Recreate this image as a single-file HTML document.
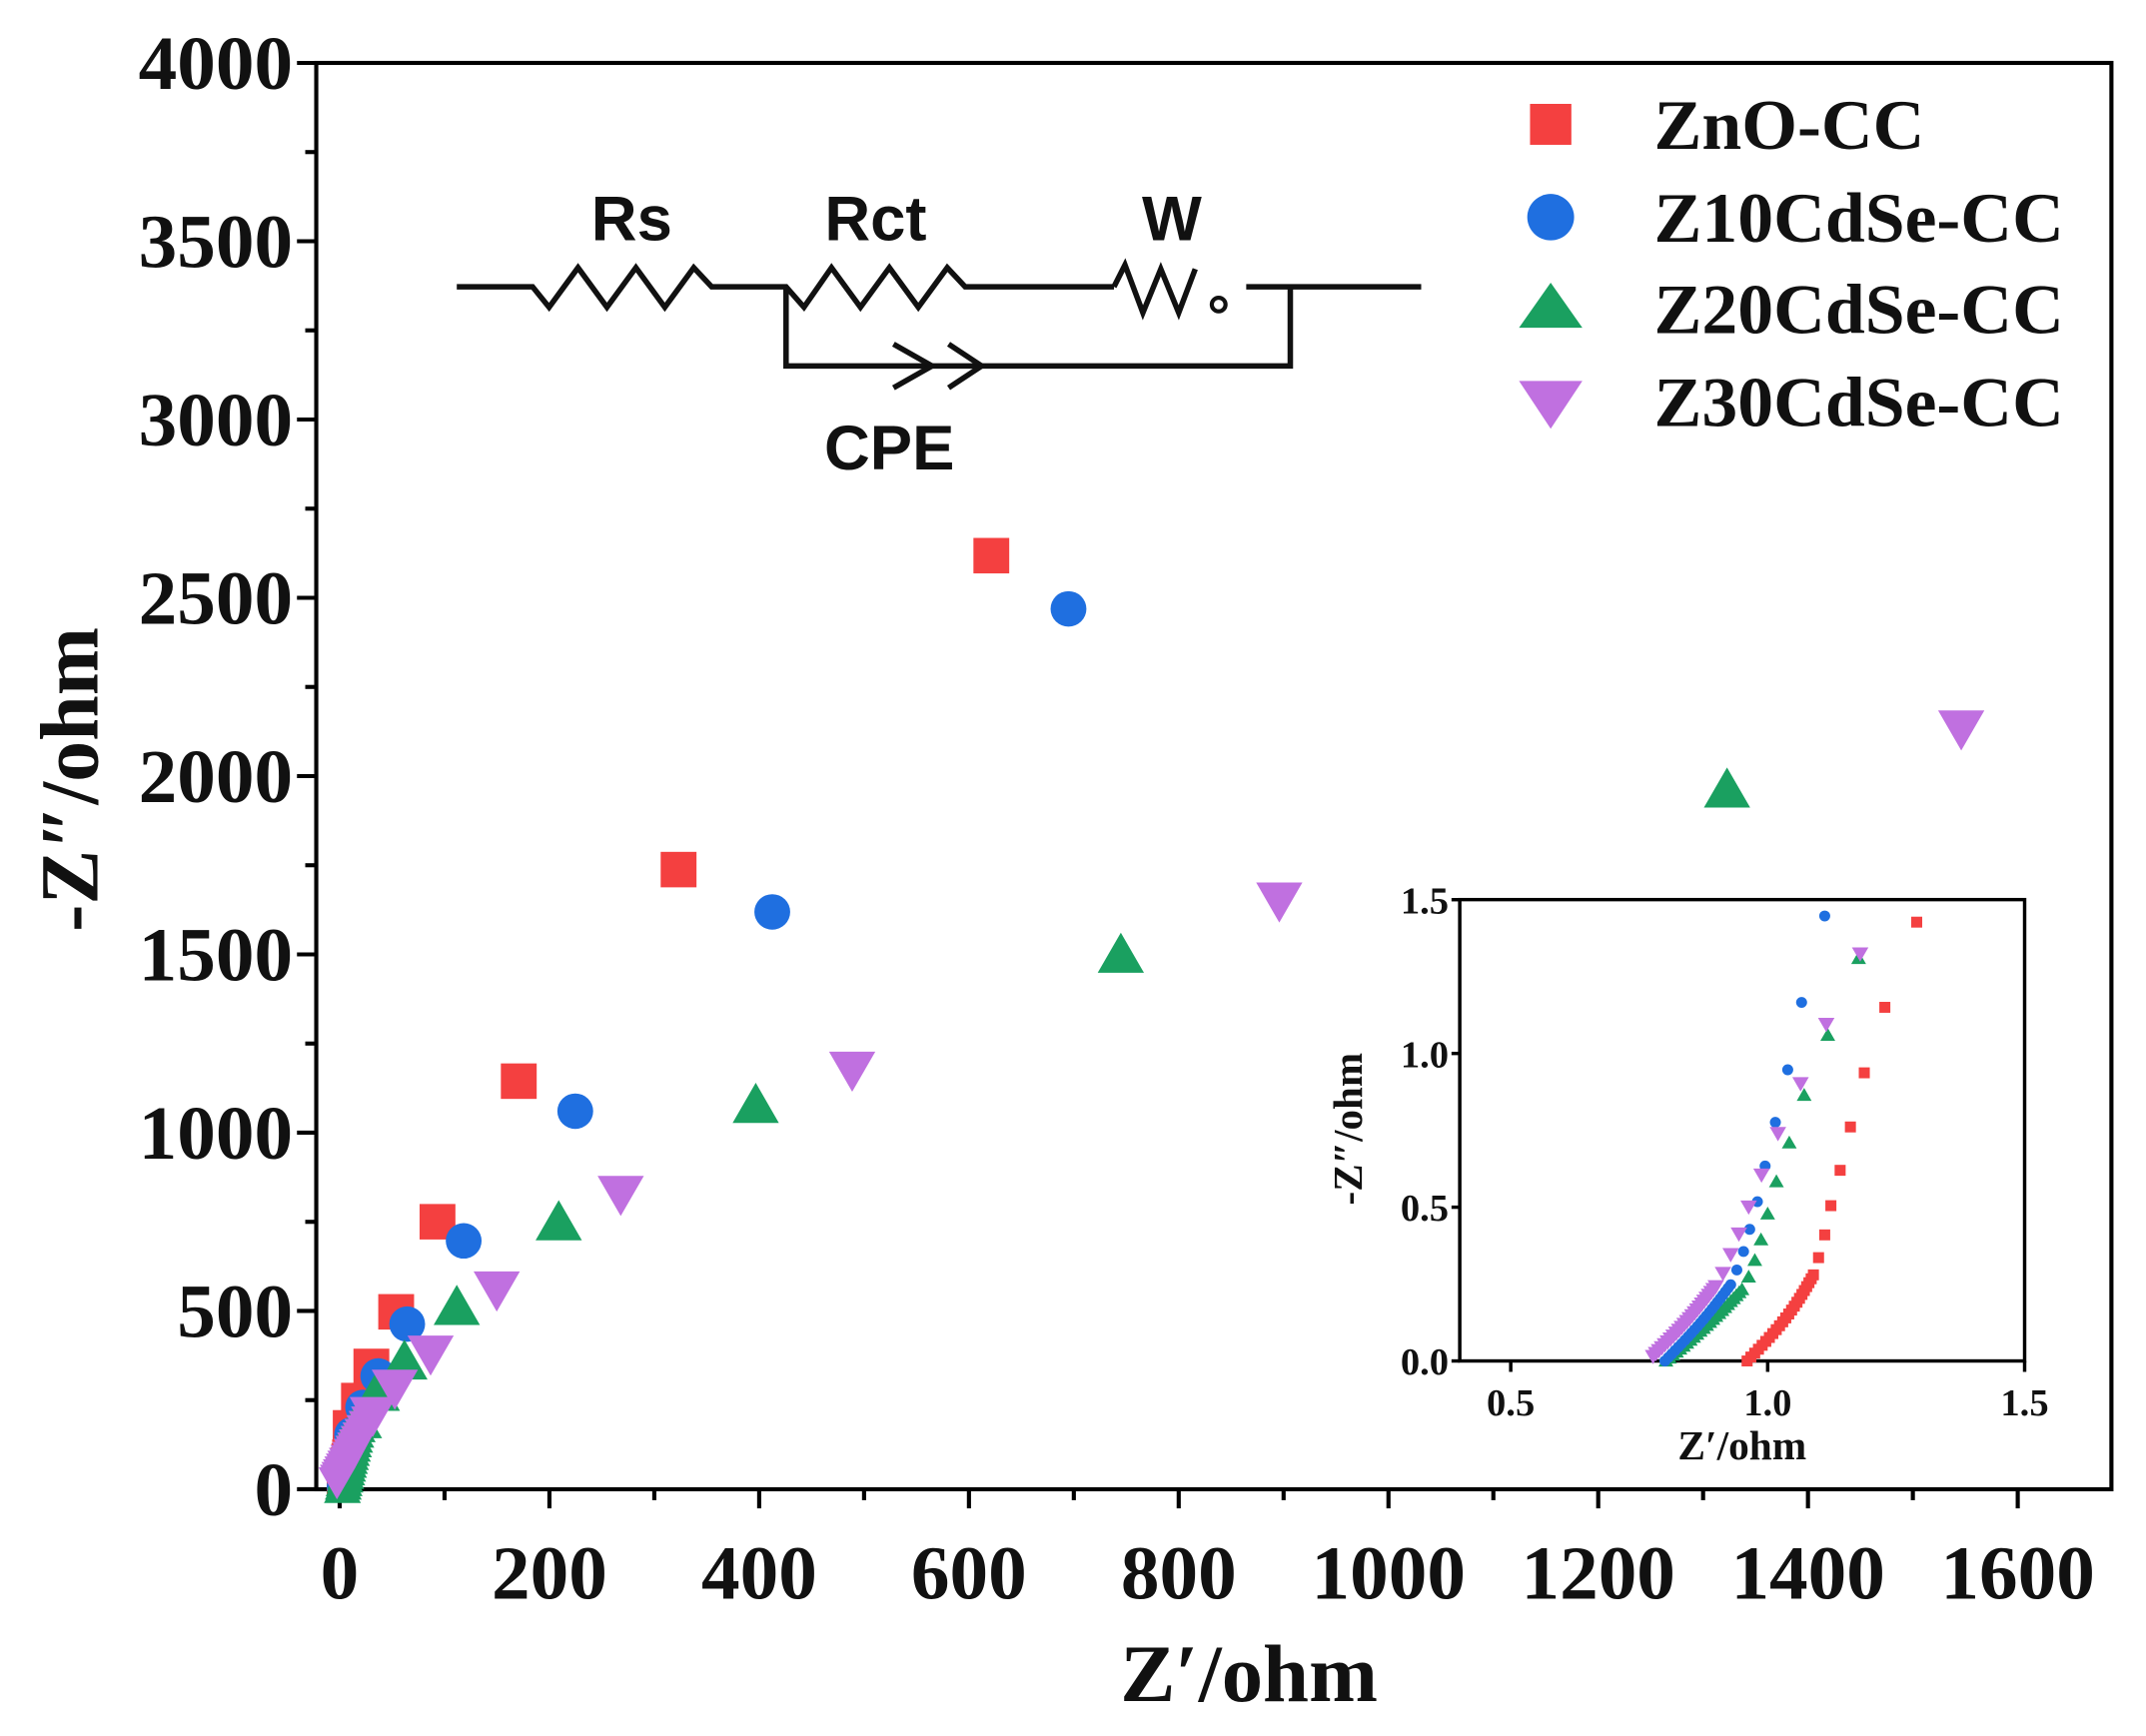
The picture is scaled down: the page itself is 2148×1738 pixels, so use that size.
<!DOCTYPE html>
<html><head><meta charset="utf-8"><style>
html,body{margin:0;padding:0;background:#fff;}
svg{display:block;}
</style></head><body>
<svg id="s" xmlns="http://www.w3.org/2000/svg" width="2148" height="1738" viewBox="0 0 2148 1738">
<rect width="2148" height="1738" fill="#fff"/>
<g id="g" transform="matrix(1.379 0 0 1.3665 -2 1.5)">
<rect x="231" y="45" width="1303" height="1045" fill="none" stroke="#000" stroke-width="3"/>
<g id="ticks" stroke="#000" stroke-width="3"></g>
<g id="labels" font-family="Liberation Serif, serif" font-weight="bold" font-size="56" fill="#111"></g>
<text x="908" y="1245" text-anchor="middle" font-family="Liberation Serif, serif" font-weight="bold" font-size="60" fill="#111">Z′/ohm</text>
<text transform="translate(72,570) rotate(-90)" text-anchor="middle" font-family="Liberation Serif, serif" font-weight="bold" font-size="60" fill="#111">-Z″/ohm</text>
<g fill="none" stroke="#111" stroke-width="4" stroke-linejoin="miter">
<polyline points="333,209 388,209 400,224 421,195 442,224 463,195 484,224 505,195 518,209 572,209 585,224 605,195 626,224 647,195 668,224 689,195 702,209 723,209 810,209"/>
<polyline points="810,209 818,193 831,228 844,196 857,228 869,196"/>
<circle cx="886" cy="222" r="5" stroke-width="3"/>
<polyline points="906,209 1033,209"/>
<polyline points="572,209 572,267 938,267 938,209"/>
<polyline points="650,251 678,267 650,283"/>
<polyline points="690,251 714,267 690,283"/>
</g>
<g font-family="Liberation Sans, sans-serif" font-weight="bold" font-size="46" fill="#111" text-anchor="middle">
<text x="460" y="175">Rs</text>
<text x="637" y="175">Rct</text>
<text x="852" y="175">W</text>
<text x="647" y="343">CPE</text>
</g>
<g font-family="Liberation Serif, serif" font-weight="bold" font-size="52" fill="#111">
<rect x="1112" y="75" width="30" height="30" fill="#f44040"/>
<text x="1202" y="108">ZnO-CC</text>
<circle cx="1127" cy="158" r="17" fill="#1f6fe0"/>
<text x="1202" y="176">Z10CdSe-CC</text>
<polygon points="1127,206 1150,239 1104,239" fill="#1aa060"/>
<text x="1202" y="243">Z20CdSe-CC</text>
<polygon points="1104,278 1150,278 1127,313" fill="#c070e0"/>
<text x="1202" y="311">Z30CdSe-CC</text>
</g>
<g id="data"></g>
<rect x="1061" y="658" width="410" height="338" fill="#fff" stroke="#000" stroke-width="2.5"/>
<g id="idata"></g>
<g id="iticks" stroke="#000" stroke-width="2.5"></g>
<g id="ilabels" font-family="Liberation Serif, serif" font-weight="bold" font-size="28" fill="#111"></g>
<text x="1266" y="1068" text-anchor="middle" font-family="Liberation Serif, serif" font-weight="bold" font-size="30" fill="#111">Z′/ohm</text>
<text transform="translate(990,826) rotate(-90)" text-anchor="middle" font-family="Liberation Serif, serif" font-weight="bold" font-size="30" fill="#111">-Z″/ohm</text>
</g>
</svg>
<script>
var NS="http://www.w3.org/2000/svg";
function el(p,t,a,txt){var e=document.createElementNS(NS,t);for(var k in a)e.setAttribute(k,a[k]);if(txt!=null)e.textContent=txt;document.getElementById(p).appendChild(e);return e;}
function X(v){return 248+v*0.76125;}
function Y(v){return 1090-v*0.26125;}
for(var v=0;v<=1600;v+=100){var x=X(v);el("ticks","line",{x1:x,y1:1090,x2:x,y2:v%200==0?1104:1098});
 if(v%200==0)el("labels","text",{x:x,y:1170,"text-anchor":"middle"},String(v));}
for(var v=0;v<=4000;v+=250){var y=Y(v);el("ticks","line",{x1:231,y1:y,x2:v%500==0?217:223,y2:y});
 if(v%500==0)el("labels","text",{x:214,y:y+19,"text-anchor":"end"},String(v));}
var C={r:"#f44040",b:"#1f6fe0",g:"#1aa060",p:"#c070e0"};
function mark(p,type,x,y,s){
 if(type=="r")el(p,"rect",{x:x-s/2,y:y-s/2,width:s,height:s,fill:C.r});
 else if(type=="b")el(p,"circle",{cx:x,cy:y,r:s/2,fill:C.b});
 else if(type=="g")el(p,"polygon",{points:(x)+","+(y-s*0.6)+" "+(x+s*0.6)+","+(y+s*0.45)+" "+(x-s*0.6)+","+(y+s*0.45),fill:C.g});
 else el(p,"polygon",{points:(x-s*0.6)+","+(y-s*0.45)+" "+(x+s*0.6)+","+(y-s*0.45)+" "+x+","+(y+s*0.6),fill:C.p});}
function series(p,type,pts,end,n,s){
 for(var i=0;i<pts.length;i++)mark(p,type,pts[i][0],pts[i][1],s);
 var a=pts[pts.length-1];
 for(var k=1;k<=n;k++){var t=k/n;var tt=Math.pow(t,0.8);mark(p,type,a[0]+(end[0]-a[0])*tt,a[1]+(end[1]-a[1])*tt,s*0.8);}}
series("data","r",[[721,406],[494,636],[378,791],[319,894],[289,960],[271,1000],[262,1025],[256,1045]],[249,1088],14,26);
series("data","b",[[777,445],[562,667],[419,813],[338,908],[297,969],[276,1007],[265,1030],[257,1050]],[249,1088],14,26);
series("data","g",[[1255,578],[815,699],[550,809],[407,895],[333,957],[295,997],[275,1020],[262,1040]],[250,1090],16,28);
series("data","p",[[1425,532],[930,658],[620,782],[452,873],[362,943],[314,990],[288,1015],[272,1035]],[246,1084],20,28);
function IX(v){return 1098+(v-0.5)*373;}
function IY(v){return 996-v*225.3;}
[0.5,1.0,1.5].forEach(function(v){var x=IX(v);el("iticks","line",{x1:x,y1:996,x2:x,y2:1004});el("ilabels","text",{x:x,y:1036,"text-anchor":"middle"},v.toFixed(1));});
[0,0.5,1.0,1.5].forEach(function(v){var y=IY(v);el("iticks","line",{x1:1061,y1:y,x2:1055,y2:y});el("ilabels","text",{x:1053,y:y+10,"text-anchor":"end"},v.toFixed(1));});
function iser(type,pts,end,n,s){var P=pts.map(function(q){return [IX(q[0]),IY(q[1])];});
 for(var i=0;i<P.length;i++)mark("idata",type,P[i][0],P[i][1],s);
 var a=P[P.length-1],e=[IX(end[0]),IY(end[1])];
 for(var k=1;k<=n;k++){var t=k/n;var bx=a[0]+(e[0]-a[0])*t,by=a[1]+(e[1]-a[1])*t;
  var cx=bx+Math.sin(t*Math.PI)*4*(type=="r"?1:0.5);mark("idata",type,cx,by,s);}}
iser("r",[[1.29,1.427],[1.228,1.15],[1.188,0.937],[1.161,0.761],[1.141,0.62],[1.123,0.505],[1.111,0.41],[1.099,0.336],[1.089,0.28]],[0.96,0],22,8);
iser("g",[[1.177,1.309],[1.117,1.059],[1.071,0.864],[1.042,0.709],[1.017,0.583],[1.0,0.478],[0.987,0.394],[0.975,0.327],[0.963,0.273],[0.95,0.232]],[0.802,0],24,9);
iser("b",[[1.111,1.447],[1.066,1.166],[1.039,0.947],[1.015,0.776],[0.995,0.634],[0.98,0.518],[0.965,0.428],[0.953,0.356],[0.94,0.296],[0.928,0.248]],[0.8,0.0],22,8);
iser("p",[[1.18,1.325],[1.114,1.096],[1.064,0.903],[1.02,0.741],[0.988,0.606],[0.963,0.502],[0.944,0.414],[0.928,0.347],[0.913,0.286],[0.899,0.243]],[0.777,0.016],24,10);
</script>
</body></html>
